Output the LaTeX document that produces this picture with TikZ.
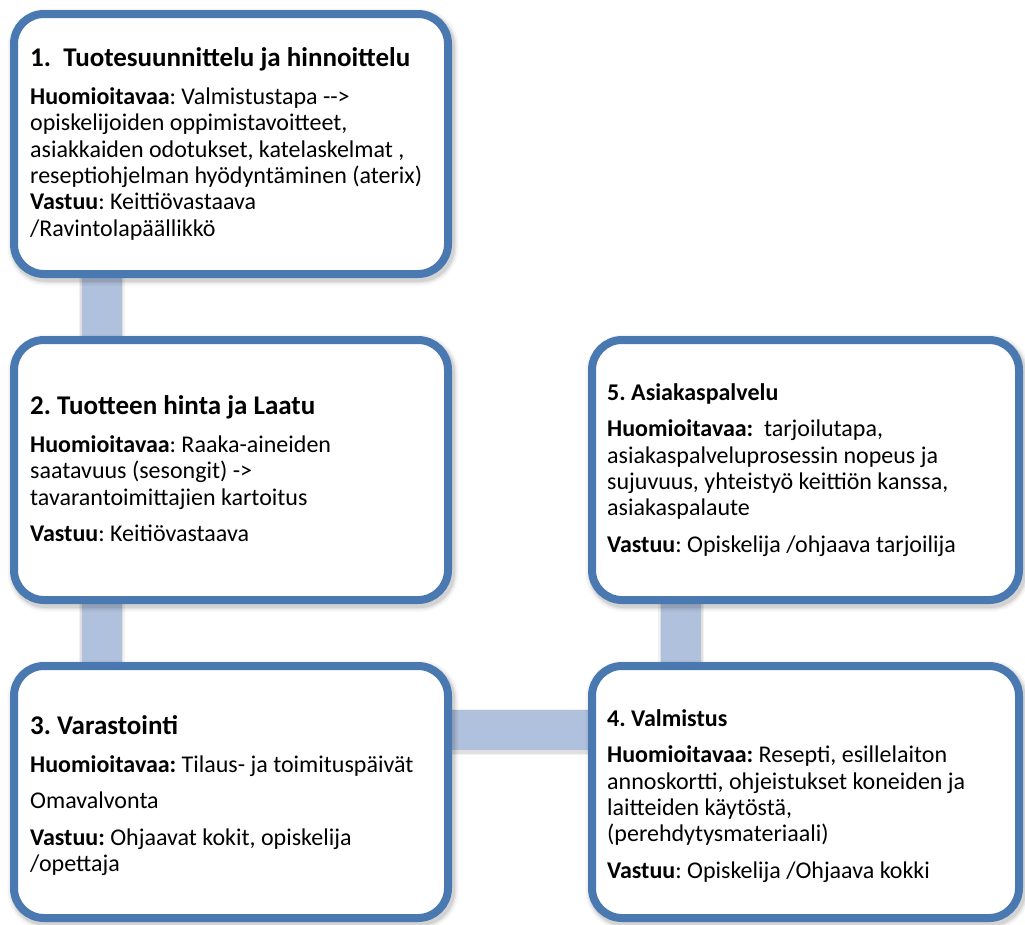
\documentclass[tikz,border=0pt]{standalone}
\usepackage{fontspec}
\setmainfont{Carlito}
\frenchspacing
\definecolor{boxline}{RGB}{74,120,176}
\definecolor{linkbar}{RGB}{176,193,221}
% headings: large bold for stages 1-3, body-size bold for stages 4-5
\newcommand{\headbig}[1]{{\fontsize{27pt}{26.3pt}\selectfont\bfseries #1}}
\newcommand{\headsmall}[1]{{\bfseries #1}}
\begin{document}
\begin{tikzpicture}[x=1pt,y=-1pt,
  stage/.style={draw=boxline, line width=8pt, fill=white, rounded corners=30pt,
    inner sep=0pt,
    preaction={draw=black, opacity=0.04, line width=17pt, transform canvas={shift={(2pt,-3pt)}}},
    preaction={draw=black, opacity=0.06, line width=13pt, transform canvas={shift={(2pt,-3pt)}}},
    preaction={draw=black, opacity=0.08, line width=10pt, transform canvas={shift={(2pt,-3pt)}}}},
  slot/.style={inner sep=0pt},
  bar/.style={draw=linkbar, line width=40pt,
    preaction={draw=black, opacity=0.05, line width=46pt, transform canvas={shift={(0pt,-2pt)}}},
    preaction={draw=black, opacity=0.07, line width=43pt, transform canvas={shift={(0pt,-2pt)}}}},
  % anchored at the baseline of the last line of each block
  txt/.style={anchor=base west, inner sep=0pt, align=left,
    font=\fontsize{24pt}{26.3pt}\selectfont},
]
\fill[white] (0,0) rectangle (1025,924);
\useasboundingbox (0,0) rectangle (1025,924);

% centres of the five stages
\coordinate (c1) at (231,144);
\coordinate (c2) at (231,470);
\coordinate (c3) at (231,792);
\coordinate (c4) at (805.5,792);
\coordinate (c5) at (805.5,470);

% invisible outlines used to attach the connector bars
\node[slot, minimum width=434pt, minimum height=260pt] (b1) at (c1) {};
\node[slot, minimum width=434pt, minimum height=260pt] (b2) at (c2) {};
\node[slot, minimum width=434pt, minimum height=252pt] (b3) at (c3) {};
\node[slot, minimum width=427pt, minimum height=252pt] (b4) at (c4) {};
\node[slot, minimum width=427pt, minimum height=260pt] (b5) at (c5) {};

% connector bars run underneath the frames
\draw[bar] ([xshift=88pt]b1.south west) -- ([xshift=88pt]b2.north west);
\draw[bar] ([xshift=88pt]b2.south west) -- ([xshift=88pt]b3.north west);
\draw[bar] ([yshift=62pt]b3.east) -- ([yshift=62pt]b4.west);
\draw[bar] ([xshift=89.5pt]b4.north west) -- ([xshift=89.5pt]b5.south west);

% rounded frames
\node[stage, minimum width=434pt, minimum height=260pt] (f1) at (c1) {};
\node[stage, minimum width=434pt, minimum height=260pt] (f2) at (c2) {};
\node[stage, minimum width=434pt, minimum height=252pt] (f3) at (c3) {};
\node[stage, minimum width=427pt, minimum height=252pt] (f4) at (c4) {};
\node[stage, minimum width=427pt, minimum height=260pt] (f5) at (c5) {};

% texts
\node[txt] (t1) at (30,236) {\headbig{1.~~Tuotesuunnittelu ja hinnoittelu}\\[11.3pt]
  \textbf{Huomioitavaa}: Valmistustapa -{}-{}>\\
  opiskelijoiden oppimistavoitteet,\\
  asiakkaiden odotukset, katelaskelmat ,\\
  reseptiohjelman hyödyntäminen (aterix)\\
  \textbf{Vastuu}: Keittiövastaava\\
  /Ravintolapäällikkö};

\node[txt] (t2) at (30,541.7) {\headbig{2. Tuotteen hinta ja Laatu}\\[11.3pt]
  \textbf{Huomioitavaa}: Raaka-aineiden\\
  saatavuus (sesongit) ->\\
  tavarantoimittajien kartoitus\\[10.3pt]
  \textbf{Vastuu}: Keitiövastaava};

\node[txt] (t3) at (30,871.7) {\headbig{3. Varastointi}\\[11.3pt]
  \textbf{Huomioitavaa:} Tilaus- ja toimituspäivät\\[10.3pt]
  Omavalvonta\\[10.3pt]
  \textbf{Vastuu:} Ohjaavat kokit, opiskelija\\
  /opettaja};

\node[txt] (t5) at (607,552.3) {\headsmall{5. Asiakaspalvelu}\\[9.7pt]
  \textbf{Huomioitavaa:}~~tarjoilutapa,\\
  asiakaspalveluprosessin nopeus ja\\
  sujuvuus, yhteistyö keittiön kanssa,\\
  asiakaspalaute\\[10.3pt]
  \textbf{Vastuu}: Opiskelija /ohjaava tarjoilija};

\node[txt] (t4) at (607,878.3) {\headsmall{4. Valmistus}\\[10pt]
  \textbf{Huomioitavaa:} Resepti, esillelaiton\\
  annoskortti, ohjeistukset koneiden ja\\
  laitteiden käytöstä,\\
  (perehdytysmateriaali)\\[10.3pt]
  \textbf{Vastuu}: Opiskelija /Ohjaava kokki};
\end{tikzpicture}
\end{document}
